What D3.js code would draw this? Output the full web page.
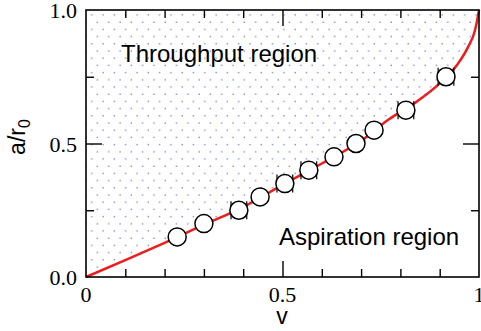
<!DOCTYPE html>
<html>
<head>
<meta charset="utf-8">
<script src="https://cdn.jsdelivr.net/npm/d3@7"></script>
<style>
  body { margin: 0; background: #fff; }
  svg { display: block; }
  .serif { font-family: 'Liberation Serif', 'Times New Roman', 'DejaVu Serif', serif; font-size: 22px; }
  .sans { font-family: 'Liberation Sans', Arial, sans-serif; }
</style>
</head>
<body>
<svg id="chart" width="481" height="331"></svg>
<script>
// theory curve
let curveV = [0, 0.1, 0.2, 0.3, 0.4, 0.5, 0.6, 0.7, 0.77, 0.84, 0.9, 0.944, 0.972, 0.99, 0.997, 1.0]
let curveA = [0, 0.063, 0.128, 0.196, 0.262, 0.345, 0.425, 0.51, 0.59, 0.655, 0.725, 0.794, 0.861, 0.925, 0.975, 1.0]

// simulation points (v, a/r0, error in v)
let pointV = [0.232, 0.300, 0.389, 0.443, 0.506, 0.567, 0.631, 0.687, 0.733, 0.814, 0.916]
let pointA = [0.15, 0.20, 0.25, 0.30, 0.35, 0.40, 0.45, 0.50, 0.55, 0.625, 0.75]
let pointErr = [0.005, 0.005, 0.02, 0.005, 0.02, 0.02, 0.005, 0.005, 0.005, 0.02, 0.02]

let xTickLabels = ['0', '0.5', '1']
let yTickLabels = ['0.0', '0.5', '1.0']

let margin = {top: 10, right: 2, bottom: 54, left: 86}
let plotW = 481 - margin.left - margin.right
let plotH = 331 - margin.top - margin.bottom

let svg = d3.select('#chart')

let x = d3.scaleLinear().domain([0, 1]).range([margin.left, margin.left + plotW])
let y = d3.scaleLinear().domain([0, 1]).range([margin.top + plotH, margin.top])

// dotted pattern for the throughput region
let defs = svg.append('defs')
let pat = defs.append('pattern')
    .attr('id', 'dots')
    .attr('patternUnits', 'userSpaceOnUse')
    .attr('x', 86 + 3.7).attr('y', 10 + 1.4)
    .attr('width', 11.3).attr('height', 14.4)
pat.append('rect').attr('x', 1.5).attr('y', 3).attr('width', 1.2).attr('height', 1.2).attr('fill', '#4f63c8')
pat.append('rect').attr('x', 7.15).attr('y', 10.2).attr('width', 1.2).attr('height', 1.2).attr('fill', '#4f63c8')

let curveData = curveV.map((v, i) => ({v: v, a: curveA[i]}))

svg.append('path')
    .datum(curveData)
    .attr('d', d3.area().x(d => x(d.v)).y0(y(1)).y1(d => y(d.a)).curve(d3.curveMonotoneX))
    .attr('fill', 'url(#dots)')

svg.append('path')
    .datum(curveData)
    .attr('d', d3.line().x(d => x(d.v)).y(d => y(d.a)).curve(d3.curveMonotoneX))
    .attr('fill', 'none')
    .attr('stroke', '#ee1c1c')
    .attr('stroke-width', 2.5)

// frame
svg.append('rect')
    .attr('x', x(0)).attr('y', y(1))
    .attr('width', x(1) - x(0)).attr('height', y(0) - y(1))
    .attr('fill', 'none').attr('stroke', '#000').attr('stroke-width', 1.6)

// inward ticks on all four sides
function addTicks(axisFn, scale, tickVals, len, transform) {
    let g = svg.append('g').attr('transform', transform)
        .call(axisFn(scale).tickValues(tickVals).tickSize(-len).tickFormat(''))
    g.select('.domain').remove()
    g.selectAll('.tick line').attr('stroke-width', 1.4)
}
let xMinor = d3.range(1, 10).map(d => d / 10).filter(d => d !== 0.5)
let yMinor = [0.25, 0.75]
addTicks(d3.axisBottom, x, xMinor, 8, `translate(0,${y(0)})`)
addTicks(d3.axisBottom, x, [0.5], 16, `translate(0,${y(0)})`)
addTicks(d3.axisTop, x, xMinor, 8, `translate(0,${y(1)})`)
addTicks(d3.axisTop, x, [0.5], 16, `translate(0,${y(1)})`)
addTicks(d3.axisLeft, y, yMinor, 8, `translate(${x(0)},0)`)
addTicks(d3.axisLeft, y, [0.5], 16, `translate(${x(0)},0)`)
addTicks(d3.axisRight, y, yMinor, 8, `translate(${x(1)},0)`)
addTicks(d3.axisRight, y, [0.5], 16, `translate(${x(1)},0)`)

// tick labels
svg.selectAll('.xlab').data(xTickLabels).enter().append('text')
    .attr('class', 'serif')
    .attr('x', d => x(+d)).attr('y', 302)
    .attr('text-anchor', 'middle')
    .text(d => d)

svg.selectAll('.ylab').data(yTickLabels).enter().append('text')
    .attr('class', 'serif')
    .attr('x', 77).attr('y', d => y(+d) + 8)
    .attr('text-anchor', 'end')
    .text(d => d)

// error bars and points
let pts = pointV.map((v, i) => ({v: v, a: pointA[i], e: pointErr[i]}))
let eb = svg.append('g').attr('stroke', '#000').attr('stroke-width', 1.2)
pts.forEach(d => {
    eb.append('line').attr('x1', x(d.v - d.e)).attr('x2', x(d.v + d.e)).attr('y1', y(d.a)).attr('y2', y(d.a))
    eb.append('line').attr('x1', x(d.v - d.e)).attr('x2', x(d.v - d.e)).attr('y1', y(d.a) - 9).attr('y2', y(d.a) + 9)
    eb.append('line').attr('x1', x(d.v + d.e)).attr('x2', x(d.v + d.e)).attr('y1', y(d.a) - 9).attr('y2', y(d.a) + 9)
})
svg.selectAll('.pt').data(pts).enter().append('circle')
    .attr('cx', d => x(d.v)).attr('cy', d => y(d.a)).attr('r', 9)
    .attr('fill', '#fff').attr('stroke', '#000').attr('stroke-width', 1.5)

// region labels
svg.append('text').attr('class', 'sans').attr('x', 121).attr('y', 62)
    .style('font-size', '24px')
    .text('Throughput region')
svg.append('text').attr('class', 'sans').attr('x', 279).attr('y', 245)
    .style('font-size', '24px')
    .text('Aspiration region')

// axis titles
svg.append('text').attr('class', 'sans').attr('x', 282).attr('y', 324).attr('text-anchor', 'middle')
    .style('font-size', '23px')
    .text('v')
let yTitle = svg.append('text').attr('class', 'sans')
    .attr('transform', 'translate(25,137) rotate(-90)')
    .attr('text-anchor', 'middle')
    .style('font-size', '23px')
yTitle.append('tspan').text('a/r')
yTitle.append('tspan').attr('dy', 5).style('font-size', '16px').text('0')
</script>
</body>
</html>
